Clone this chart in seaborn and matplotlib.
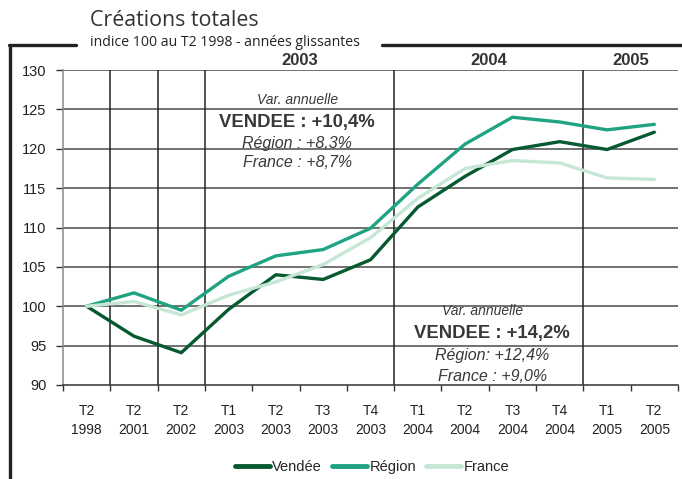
import matplotlib
matplotlib.use("Agg")
import matplotlib.pyplot as plt
import seaborn as sns
import pandas as pd
from matplotlib.lines import Line2D

categories = ["T2\n1998", "T2\n2001", "T2\n2002", "T1\n2003", "T2\n2003", "T3\n2003", "T4\n2003",
              "T1\n2004", "T2\n2004", "T3\n2004", "T4\n2004", "T1\n2005", "T2\n2005"]
vendee = [100, 96.2, 94.1, 99.6, 104.0, 103.4, 105.9, 112.6, 116.5, 119.9, 120.9, 119.9, 122.1]
region = [100, 101.7, 99.5, 103.8, 106.4, 107.2, 109.9, 115.5, 120.6, 124.0, 123.4, 122.4, 123.1]
france = [100, 100.6, 98.9, 101.4, 103.1, 105.3, 108.7, 113.7, 117.5, 118.5, 118.2, 116.3, 116.1]
series_names = ["Vendée", "Région", "France"]
year_labels = ["2003", "2004", "2005"]

rows = []
for name, vals in zip(series_names, [vendee, region, france]):
    for i, v in enumerate(vals):
        rows.append({"pos": i, "valeur": v, "serie": name})
df = pd.DataFrame(rows)

sns.set_theme(style="white")
plt.rcParams["font.family"] = ["Liberation Sans", "DejaVu Sans"]

fig = plt.figure(figsize=(6.82, 4.79), dpi=100)
ax = fig.add_axes([63/682, 1-385/479, (678-63)/682, (385-70)/479])

palette = {"Vendée": "#07592f", "Région": "#1fa383", "France": "#c6e7d5"}
# grid
for yv in range(95, 131, 5):
    ax.axhline(yv, color="#4a4a4a", lw=1.1, zorder=1)
for xv in [0.5, 1.5, 2.5, 6.5, 10.5]:
    ax.axvline(xv, color="#222222", lw=1.1, zorder=1)

sns.lineplot(data=df, x="pos", y="valeur", hue="serie", hue_order=series_names,
             palette=palette, linewidth=2.4, ax=ax, legend=True, zorder=3)

ax.set_xlim(-0.5, len(categories) - 0.5)
ax.set_ylim(90, 130)
ax.set_xticks(range(len(categories)))
ax.set_xticklabels(categories, fontsize=10, color="#222222", linespacing=1.45)
ax.set_xticks([i - 0.5 for i in range(len(categories) + 1)], minor=True)
ax.tick_params(axis="x", which="major", length=0, pad=14)
ax.tick_params(axis="x", which="minor", length=4, width=1, color="#333333", direction="out", bottom=True)
ax.set_yticks(range(90, 131, 5))
ax.tick_params(axis="y", length=5, width=1, color="#333333", direction="out", left=True,
               labelsize=10.5, labelcolor="#222222", pad=7)
ax.set_xlabel("")
ax.set_ylabel("")
for s in ["right", "top"]:
    ax.spines[s].set_visible(False)
ax.spines["left"].set_color("#888888")
ax.spines["left"].set_linewidth(1.1)
ax.spines["bottom"].set_color("#333333")
ax.spines["bottom"].set_linewidth(1.1)

# year labels above
for lab, xc in zip(year_labels, [4.5, 8.5, 11.5]):
    ax.text(xc, 131.2, lab, ha="center", va="center", fontsize=12, fontweight="bold", color="#333333")

# annotations
tc = "#383838"
ax.text(4.45, 126.2, "Var. annuelle", ha="center", va="center", fontsize=10, style="italic", color=tc)
ax.text(4.45, 123.3, "VENDEE : +10,4%", ha="center", va="center", fontsize=13.3, fontweight="bold", color=tc)
ax.text(4.45, 120.7, "Région : +8,3%", ha="center", va="center", fontsize=11.5, style="italic", color=tc)
ax.text(4.45, 118.3, "France : +8,7%", ha="center", va="center", fontsize=11.5, style="italic", color=tc)

ax.text(8.36, 99.4, "Var. annuelle", ha="center", va="center", fontsize=10, style="italic", color=tc)
ax.text(8.57, 96.5, "VENDEE : +14,2%", ha="center", va="center", fontsize=13.3, fontweight="bold", color=tc)
ax.text(8.57, 93.7, "Région: +12,4%", ha="center", va="center", fontsize=11.5, style="italic", color=tc)
ax.text(8.57, 91.1, "France : +9,0%", ha="center", va="center", fontsize=11.5, style="italic", color=tc)

# legend
leg = ax.legend(loc="center", bbox_to_anchor=(372/682, 1-467/479), bbox_transform=fig.transFigure,
                ncol=3, frameon=False, fontsize=10.5, handlelength=2.4, handletextpad=0.15,
                columnspacing=0.7, title=None)
for h in leg.get_lines():
    h.set_linewidth(3.5)

# title and frame
fig.text(90/682, 1-20/479, "Créations totales", fontsize=15.4, color="#333333",
         family=["Open Sans", "DejaVu Sans"], ha="left", va="center")
fig.text(90/682, 1-42/479, "indice 100 au T2 1998 - années glissantes", fontsize=10.1, color="#222222",
         family=["Open Sans", "DejaVu Sans"], ha="left", va="center")
fy = 1-45/479
fig.add_artist(Line2D([10/682, 10/682], [0, fy], color="#222222", lw=2.4))
fig.add_artist(Line2D([9/682, 76/682], [fy, fy], color="#222222", lw=2.4))
fig.add_artist(Line2D([382/682, 1.0], [fy, fy], color="#222222", lw=2.4))

fig.savefig("out.png", dpi=100)
